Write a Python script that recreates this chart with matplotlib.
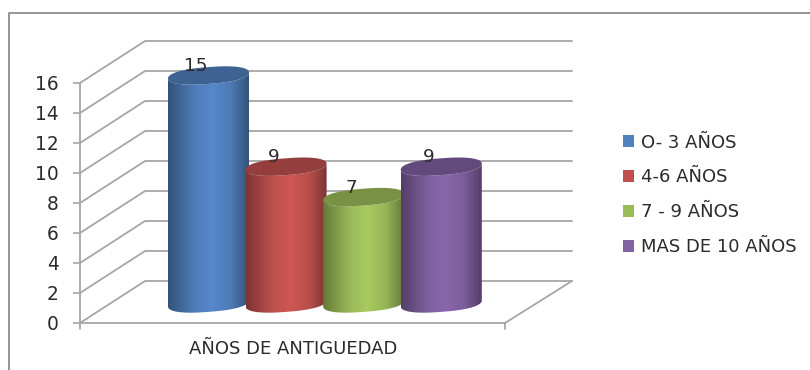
import numpy as np
import matplotlib
matplotlib.use("Agg")
import matplotlib.pyplot as plt
from matplotlib.colors import LinearSegmentedColormap, to_rgb
from matplotlib.patches import Patch, PathPatch, Polygon
from matplotlib.path import Path

# ---- data ----
series_names = ["O- 3 AÑOS", "4-6 AÑOS", "7 - 9 AÑOS", "MAS DE 10 AÑOS"]
series_values = [15, 9, 7, 9]
category_label = "AÑOS DE ANTIGUEDAD"
y_ticks = [0, 2, 4, 6, 8, 10, 12, 14, 16]
legend_colors = ["#4F81BD", "#C0504D", "#9BBB59", "#8064A2"]
body_colors = ["#5688CB", "#CE5755", "#A7CA60", "#8A67AC"]

GRID = "#a6a6a6"
TXT = "#2b2b2b"
W, H = 810, 370
plt.rcParams["font.family"] = "DejaVu Sans"

fig = plt.figure(figsize=(W / 100, H / 100), dpi=100)

# overlay in figure pixels (y down) for the frame
bg = fig.add_axes([0, 0, 1, 1], zorder=0)
bg.set_xlim(0, W); bg.set_ylim(H, 0); bg.axis("off")
bg.plot([9, 9, W], [H, 13, 13], color="#8c8c8c", lw=1.3, solid_capstyle="butt")

# front plane of the 3D box: value axis 0..16
X0, X1, Y0, Y16 = 80, 505, 323, 83
ax = fig.add_axes([X0 / W, 1 - Y0 / H, (X1 - X0) / W, (Y0 - Y16) / H], zorder=1)
ax.patch.set_alpha(0)
for s in ax.spines.values():
    s.set_visible(False)

STEP_PX, FIRST_PX = 77.6, 208.5
px_x = 1 / STEP_PX                 # one pixel in category units
px_y = 16 / (Y0 - Y16)             # one pixel in value units
xlim = ((X0 - FIRST_PX) * px_x, (X1 - FIRST_PX) * px_x)
ax.set_xlim(*xlim); ax.set_ylim(0, 16)

DX, DY = 65 * px_x, 42 * px_y      # depth of the box
BACK_RIGHT = (572 - FIRST_PX) * px_x
g_kw = dict(color=GRID, lw=1.3, clip_on=False, zorder=1, solid_capstyle="round")
for t in y_ticks:
    ax.plot([xlim[0], xlim[0] + DX, BACK_RIGHT], [t, t + DY, t + DY], **g_kw)
# floor and front edges
ax.plot([xlim[0], xlim[1], BACK_RIGHT], [0, 0, DY], **g_kw)
ax.plot([xlim[0], xlim[0]], [0, 16], **g_kw)
ax.plot([xlim[1], xlim[1]], [0, -6 * px_y], **g_kw)
ax.plot([xlim[0], xlim[0]], [0, -6 * px_y], **g_kw)

ax.set_xticks([]); ax.set_yticks(y_ticks)
ax.tick_params(axis="y", length=5, width=1.2, color=GRID, labelsize=13.4,
               labelcolor=TXT, pad=10.5)

# ---- cylinders ----
BASE = 19.5 * px_y                 # lift of the bar base above the front edge
SCALE = 15.2 / 15.0
A = 40.5 * px_x                    # half width
B = 8.4 * px_y                     # vertical radius of the ellipse
TILT = 3.0 * px_y                  # ellipse rises to the right
POW_X, POW_Y = 0.8, 0.92           # slightly blunt cap outline
t_arc = np.linspace(0, 2 * np.pi, 241)

def ell(cx, cy, t):
    c, s = np.cos(t), np.sin(t)
    u = np.sign(c) * np.abs(c) ** POW_X
    w = np.sign(s) * np.abs(s) ** POW_Y
    return np.c_[cx + A * u, cy + B * w + TILT * u]

def shade(c, f):
    return tuple(v * f for v in to_rgb(c))

for i, (v, col) in enumerate(zip(series_values, body_colors)):
    base, top = BASE, BASE + v * SCALE
    lower = ell(i, base, np.linspace(np.pi, 2 * np.pi, 80))
    upper = ell(i, top, np.linspace(2 * np.pi, np.pi, 80))
    poly = np.vstack([lower, upper, lower[:1]])
    z = 3 + i
    cmap = LinearSegmentedColormap.from_list("c", [
        (0.00, shade(col, 0.60)), (0.12, shade(col, 0.72)), (0.35, shade(col, 0.93)),
        (0.55, shade(col, 1.0)), (0.78, shade(col, 0.90)), (1.00, shade(col, 0.60))])
    im = ax.imshow(np.linspace(0, 1, 256)[None, :], cmap=cmap, aspect="auto",
                   extent=(i - A, i + A, base - B - TILT, top + B + TILT), zorder=z)
    clip = PathPatch(Path(poly), transform=ax.transData, fc="none", ec="none")
    ax.add_patch(clip)
    im.set_clip_path(clip)
    im.set_clip_box(fig.bbox)      # let the image run past the top of the value axis
    ax.add_patch(Polygon(ell(i, top, t_arc), closed=True, fc=shade(col, 0.72),
                         ec="none", zorder=z, clip_on=False))
    ax.annotate(str(v), (i, top), xytext=(-9, 0.3), textcoords="offset points",
                ha="center", va="bottom", fontsize=13.2, color=TXT,
                annotation_clip=False, zorder=10)

ax.set_xlim(*xlim); ax.set_ylim(0, 16)

# category label
bg.text(293, 349, category_label, ha="center", va="center", fontsize=13, color=TXT)

# legend
handles = [Patch(fc=c, ec="none") for c in legend_colors]
leg = bg.legend(handles, series_names, loc="upper left", bbox_to_anchor=(622.5 / W, 1 - 133.5 / H),
                bbox_transform=fig.transFigure, frameon=False, fontsize=13,
                handlelength=0.65, handleheight=0.65, handletextpad=0.35,
                labelspacing=0.94, borderpad=0, borderaxespad=0, labelcolor=TXT)

fig.savefig("out.png", dpi=100)
